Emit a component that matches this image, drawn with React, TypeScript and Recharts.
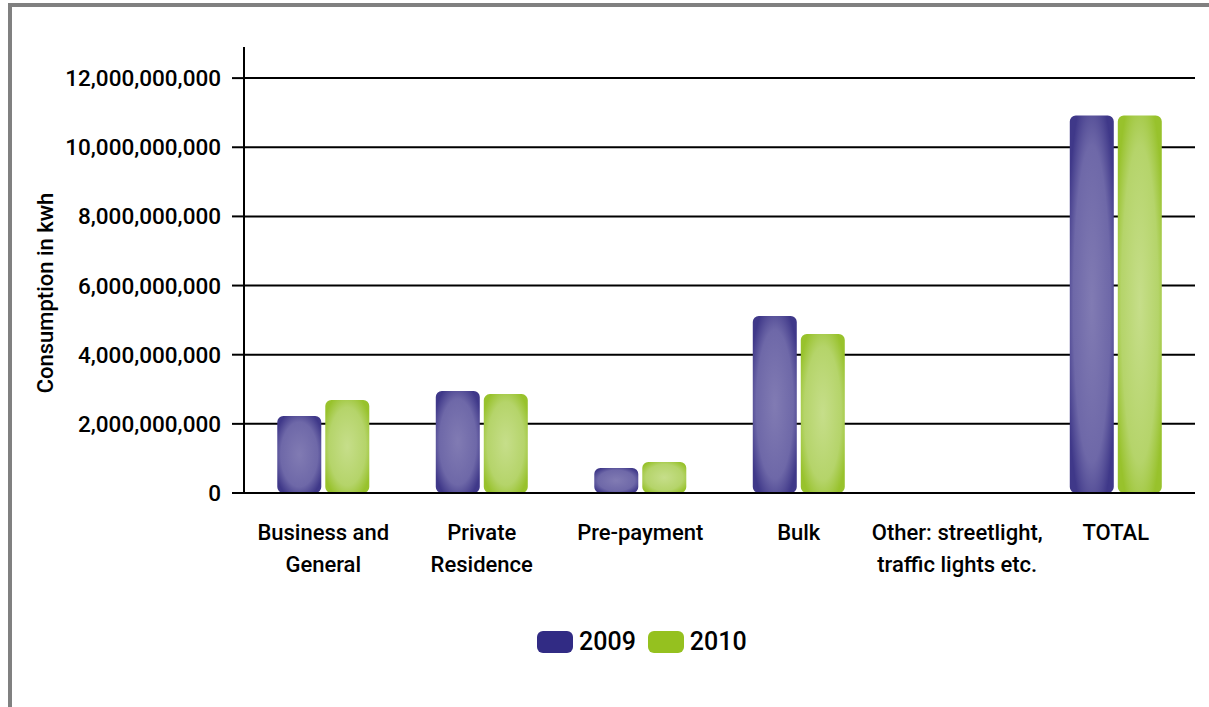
import React from 'react';
import { BarChart, Bar, XAxis, YAxis, CartesianGrid, Legend, Label } from 'recharts';

const categories = [
  'Business and\nGeneral',
  'Private\nResidence',
  'Pre-payment',
  'Bulk',
  'Other: streetlight,\ntraffic lights etc.',
  'TOTAL',
];
const values2009 = [2230000000, 2950000000, 720000000, 5120000000, 0, 10920000000];
const values2010 = [2690000000, 2860000000, 900000000, 4600000000, 0, 10920000000];
const yTicks = [0, 2000000000, 4000000000, 6000000000, 8000000000, 10000000000, 12000000000];

const data = categories.map((name, i) => ({ name, y2009: values2009[i], y2010: values2010[i] }));

const FONT = 'Roboto, "DejaVu Sans Condensed", sans-serif';

const legendItems = [
  { name: '2009', color: '#312b84' },
  { name: '2010', color: '#95c11f' },
];

const CategoryTick = ({ x, y, payload }: any) => {
  const lines = String(payload.value).split('\n');
  return (
    <text x={x} y={y} textAnchor="middle" fill="#000" fontSize={22} fontWeight={500} fontFamily={FONT}>
      {lines.map((line, i) => (
        <tspan key={i} x={x} dy={i === 0 ? 45 : 32}>
          {line}
        </tspan>
      ))}
    </text>
  );
};

const AxisTitle = () => (
  <text
    x={0}
    y={0}
    transform="translate(53, 293) rotate(-90)"
    textAnchor="middle"
    fill="#000"
    fontSize={22}
    fontWeight={500}
    fontFamily={FONT}
  >
    Consumption in kwh
  </text>
);

const renderLegend = () => (
  <div style={{ display: 'flex', alignItems: 'center', fontFamily: FONT, fontWeight: 500, fontSize: 25, color: '#000' }}>
    {legendItems.map((item) => (
      <div key={item.name} style={{ display: 'flex', alignItems: 'center', marginRight: 12 }}>
        <span
          style={{ display: 'inline-block', width: 36, height: 22, borderRadius: 6, background: item.color, marginRight: 6 }}
        />
        <span>{item.name}</span>
      </div>
    ))}
  </div>
);

export default function App() {
  return (
    <div>
      <div
        style={{
          position: 'absolute',
          left: 8,
          top: 3,
          width: 1201,
          height: 704,
          boxSizing: 'border-box',
          borderTop: '4px solid #808080',
          borderLeft: '4px solid #808080',
        }}
      />
      <div style={{ position: 'absolute', left: 0, top: 0 }}>
        <BarChart
          width={1209}
          height={700}
          data={data}
          margin={{ top: 47, right: 14, left: 0, bottom: 0 }}
          barCategoryGap="21%"
          barGap={4}
        >
          <defs>
            <radialGradient id="grad2009" cx="50%" cy="50%" r="60%">
              <stop offset="0%" stopColor="#817bb3" />
              <stop offset="70%" stopColor="#6e68a8" />
              <stop offset="100%" stopColor="#3f3889" />
            </radialGradient>
            <radialGradient id="grad2010" cx="50%" cy="50%" r="60%">
              <stop offset="0%" stopColor="#c6de8a" />
              <stop offset="70%" stopColor="#b5d46a" />
              <stop offset="100%" stopColor="#98c22c" />
            </radialGradient>
          </defs>
          <CartesianGrid vertical={false} horizontalValues={yTicks} stroke="#000" strokeWidth={2} />
          <XAxis
            dataKey="name"
            height={207}
            interval={0}
            tickLine={false}
            tickSize={0}
            axisLine={{ stroke: '#000', strokeWidth: 2 }}
            tick={<CategoryTick />}
          />
          <YAxis
            width={244}
            domain={[0, 12900000000]}
            ticks={yTicks}
            interval={0}
            tickSize={12}
            tickMargin={11}
            tickFormatter={(v: number) => v.toLocaleString('en-US')}
            tick={{ fill: '#000', fontSize: 22.5, fontWeight: 500, fontFamily: FONT }}
            tickLine={{ stroke: '#000', strokeWidth: 2 }}
            axisLine={{ stroke: '#000', strokeWidth: 2 }}
          >
            <Label content={<AxisTitle />} />
          </YAxis>
          <Legend
            verticalAlign="middle"
            layout="horizontal"
            content={renderLegend}
            wrapperStyle={{ top: 627, left: 537, width: 'auto' }}
          />
          <Bar dataKey="y2009" name="2009" fill="url(#grad2009)" radius={[6, 6, 6, 6]} isAnimationActive={false} />
          <Bar dataKey="y2010" name="2010" fill="url(#grad2010)" radius={[6, 6, 6, 6]} isAnimationActive={false} />
        </BarChart>
      </div>
    </div>
  );
}
